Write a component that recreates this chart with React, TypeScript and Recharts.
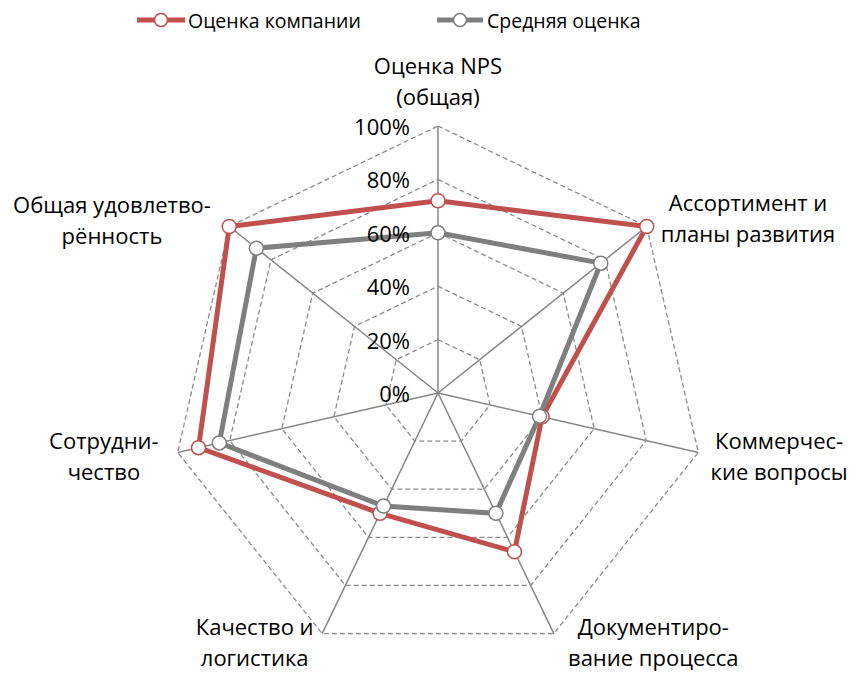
import { PolarAngleAxis, PolarGrid, PolarRadiusAxis, Radar, RadarChart } from "recharts";

const categories = [
  "Оценка NPS\n(общая)",
  "Ассортимент и\nпланы развития",
  "Коммерчес-\nкие вопросы",
  "Документиро-\nвание процесса",
  "Качество и\nлогистика",
  "Сотрудни-\nчество",
  "Общая удовлетво-\nрённость"
];
const companyScores = [72, 100, 40, 66, 50, 92, 100];
const averageScores = [60, 78, 39, 50, 47, 84, 87];
const radiusTicks = [0, 20, 40, 60, 80, 100];
const seriesNames = ["Оценка компании", "Средняя оценка"];

const RED = "#c0504d";
const GRAY = "#7f7f7f";
const FONT = "'Open Sans', sans-serif";
const W = 848;
const H = 665;
const CX = 430;
const CY = 385;
const R = 267;

const data = categories.map((name, i) => ({
  name,
  company: companyScores[i],
  average: averageScores[i]
}));

// label block offsets from the tick point, per axis
const labelOffsets = [
  [0, -38],
  [95, -4],
  [73, 1],
  [96, 1],
  [-64, 1],
  [-66, 1],
  [-111, -2]
];

function AngleTick(props: any) {
  const { x, y, payload, index } = props;
  const lines = String(payload.value).split("\n");
  const [dx, dy] = labelOffsets[index] ?? [0, 0];
  const lh = 31;
  const top = y + dy - ((lines.length - 1) * lh) / 2;
  return (
    <g>
      {lines.map((line, i) => (
        <text
          key={i}
          x={x + dx}
          y={top + i * lh}
          textAnchor="middle"
          dominantBaseline="central"
          fontFamily={FONT}
          fontSize={22}
          fill="#000"
        >
          {line}
        </text>
      ))}
    </g>
  );
}

function RadiusTick(props: any) {
  const { x, y, payload } = props;
  return (
    <text
      x={x - 28}
      y={y}
      textAnchor="end"
      dominantBaseline="central"
      fontFamily={FONT}
      fontSize={22}
      fill="#000"
    >
      {payload.value}%
    </text>
  );
}

function LegendBar() {
  const items = [
    { name: seriesNames[0], color: RED, x1: 129, x2: 177, tx: 180 },
    { name: seriesNames[1], color: GRAY, x1: 429, x2: 475, tx: 479 }
  ];
  return (
    <svg width={W} height={40} style={{ position: "absolute", left: 0, top: 0 }}>
      {items.map((it) => (
        <g key={it.name}>
          <line x1={it.x1} x2={it.x2} y1={12} y2={12} stroke={it.color} strokeWidth={5} />
          <circle cx={(it.x1 + it.x2) / 2} cy={12} r={6.5} fill="#fff" stroke={it.color} strokeWidth={1.5} />
          <text x={it.tx} y={12} dominantBaseline="central" fontFamily={FONT} fontSize={19.5} fill="#000">
            {it.name}
          </text>
        </g>
      ))}
    </svg>
  );
}

export default function App() {
  return (
    <div style={{ position: "relative", width: W, height: H }}>
      <RadarChart
        width={W}
        height={H}
        data={data}
        cx={CX}
        cy={CY}
        outerRadius={R}
        margin={{ top: 0, right: 0, bottom: 0, left: 0 }}
      >
        <PolarGrid
          gridType="polygon"
          radialLines={false}
          polarRadius={radiusTicks.slice(1).map((v) => (v / 100) * R)}
          stroke="#8c8c8c"
          strokeWidth={1.3}
          strokeDasharray="5 3"
        />
        <PolarGrid gridType="polygon" polarRadius={[0]} stroke="#868686" strokeWidth={1.5} />
        <PolarAngleAxis dataKey="name" tick={<AngleTick />} axisLine={false} tickLine={false} />
        <PolarRadiusAxis
          angle={90}
          domain={[0, 100]}
          ticks={radiusTicks as any}
          tickCount={6}
          axisLine={false}
          tick={<RadiusTick />}
        />
        <Radar
          name={seriesNames[0]}
          dataKey="company"
          stroke={RED}
          strokeWidth={5}
          fill="none"
          fillOpacity={0}
          dot={{ r: 7, fill: "#fff", stroke: RED, strokeWidth: 1.5, fillOpacity: 1 }}
          isAnimationActive={false}
        />
        <Radar
          name={seriesNames[1]}
          dataKey="average"
          stroke={GRAY}
          strokeWidth={5}
          fill="none"
          fillOpacity={0}
          dot={{ r: 7, fill: "#fff", stroke: GRAY, strokeWidth: 1.5, fillOpacity: 1 }}
          isAnimationActive={false}
        />
      </RadarChart>
      <LegendBar />
    </div>
  );
}
